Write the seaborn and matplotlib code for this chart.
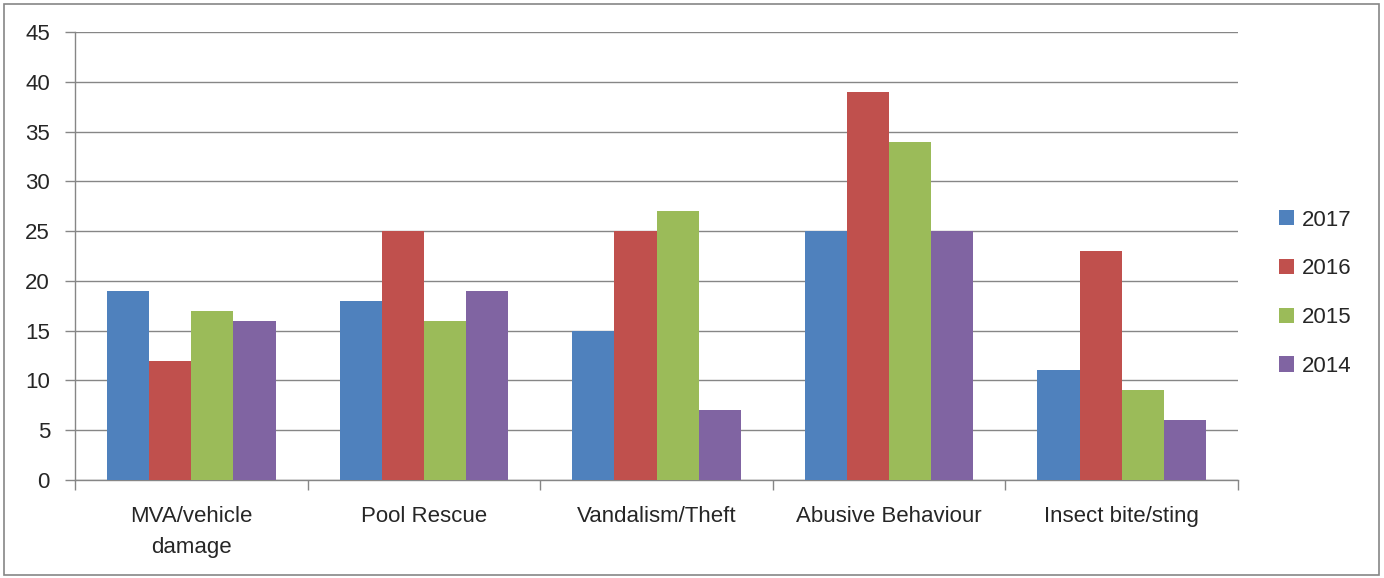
import numpy as np
import pandas as pd
import matplotlib.pyplot as plt
import seaborn as sns
from matplotlib.patches import Rectangle

# ---- data ----
categories = ['MVA/vehicle\ndamage', 'Pool Rescue', 'Vandalism/Theft',
              'Abusive Behaviour', 'Insect bite/sting']
years = ['2017', '2016', '2015', '2014']
v2017 = [19, 18, 15, 25, 11]
v2016 = [12, 25, 25, 39, 23]
v2015 = [17, 16, 27, 34, 9]
v2014 = [16, 19, 7, 25, 6]
yticks = list(range(0, 50, 5))

colors = ['#4F81BD', '#C0504D', '#9BBB59', '#8064A2']

df = pd.DataFrame({
    'Category': categories * 4,
    'Year': [y for y in years for _ in categories],
    'Count': v2017 + v2016 + v2015 + v2014,
})

sns.set_theme(style="white")
plt.rcParams['font.family'] = ['Liberation Sans', 'DejaVu Sans']
FS = 16

fig = plt.figure(figsize=(13.84, 5.78), dpi=100)
ax = fig.add_axes([75 / 1384, 1 - 480 / 578, (1238 - 75) / 1384, (480 - 32) / 578])

sns.barplot(data=df, x='Category', y='Count', hue='Year', order=categories,
            hue_order=years, palette=colors, width=0.725, saturation=1,
            edgecolor='none', linewidth=0, ax=ax, zorder=3)

ax.set_ylim(0, 45)
ax.set_xlim(-0.5, 4.5)
ax.set_yticks(yticks)
ax.set_yticklabels([str(t) for t in yticks], fontsize=FS)
ax.yaxis.grid(True, color='#868686', linewidth=1, zorder=0)
ax.set_axisbelow(True)
ax.set_xlabel('')
ax.set_ylabel('')

# category labels, boundary tick marks
ax.set_xticks(range(len(categories)))
ax.set_xticklabels(categories, fontsize=FS, linespacing=1.6)
ax.set_xticks(np.arange(-0.5, len(categories), 1), minor=True)
ax.tick_params(axis='x', which='major', length=0, pad=19)
ax.tick_params(axis='x', which='minor', length=7, width=1, color='#868686', bottom=True)
ax.tick_params(axis='y', which='major', length=7, width=1, color='#868686', left=True, pad=11)

for side in ['top', 'right']:
    ax.spines[side].set_visible(False)
for side in ['left', 'bottom']:
    ax.spines[side].set_color('#868686')
    ax.spines[side].set_linewidth(1)

leg = ax.legend(loc='center left', bbox_to_anchor=(0.035 + 1, 0.417), frameon=False,
                fontsize=FS, handlelength=0.68, handleheight=0.68,
                labelspacing=1.25, handletextpad=0.36, borderpad=0, borderaxespad=0)

# outer chart border
fig.patches.append(Rectangle((4 / 1384, 3 / 578), 1375 / 1384, 571 / 578,
                             transform=fig.transFigure, fill=False,
                             edgecolor='#868686', linewidth=1.2))

fig.savefig('out.png', dpi=100)
